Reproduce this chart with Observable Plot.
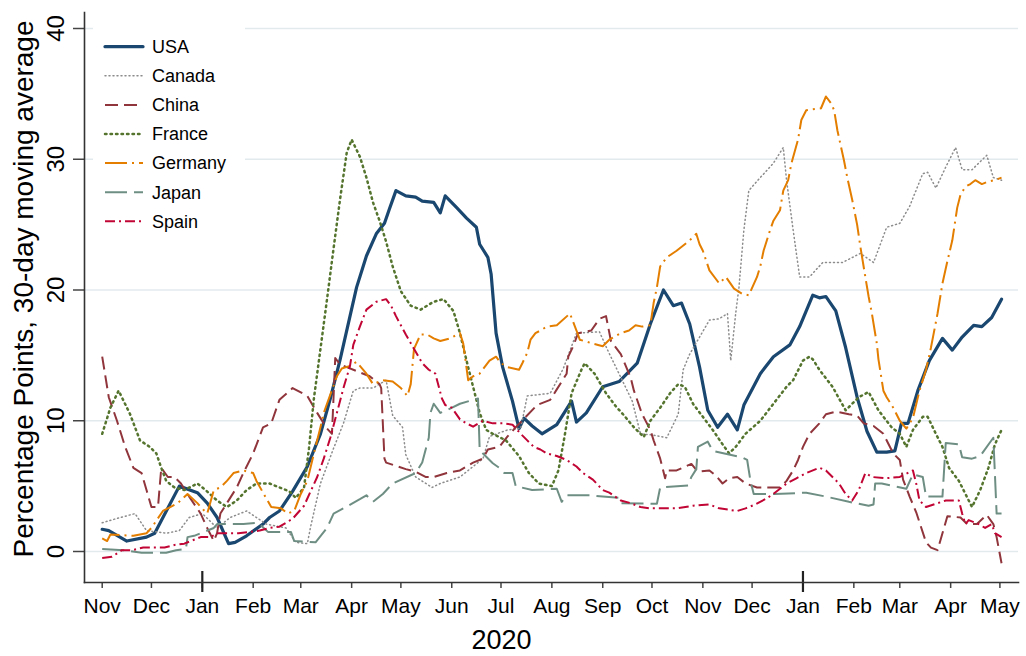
<!DOCTYPE html>
<html><head><meta charset="utf-8">
<script src="https://cdn.jsdelivr.net/npm/d3@7"></script>
<script src="https://cdn.jsdelivr.net/npm/@observablehq/plot@0.6"></script>
<style>
body{margin:0;background:#fff;}
#wrap{position:relative;width:1026px;height:656px;font-family:"Liberation Sans",Arial,sans-serif;}
#legend{position:absolute;left:93px;top:24px;}
</style></head><body>
<div id="wrap"><div id="chart"></div><div id="legend"></div></div>
<script>
const names = ["USA","Canada","China","France","Germany","Japan","Spain"];
const colors = ["#1a476f","#8c8c8c","#90353b","#55752f","#e37e00","#6e8e84","#c10534"];
const dashes = ["none","1,3","13,6","1.5,4","22,5,2,5","22,7","10,4,2,4"];
const widths = [3.2,1.5,2,2.5,2,2,2];
const caps = ["round","round","butt","round","butt","butt","butt"];
const yTicks = [0,10,20,30,40];
const monthTicks = ["2019-11-01","2019-12-01","2020-01-01","2020-02-01","2020-03-01","2020-04-01","2020-05-01","2020-06-01","2020-07-01","2020-08-01","2020-09-01","2020-10-01","2020-11-01","2020-12-01","2021-01-01","2021-02-01","2021-03-01","2021-04-01","2021-05-01"];
const yearTicks = ["2020-01-01","2021-01-01"];
const yLabel = "Percentage Points, 30-day moving average";
const xLabel = "2020";

const usa = [["2019-11-01",1.7],["2019-11-05",1.6],["2019-11-16",0.8],["2019-11-28",1.1],["2019-12-03",1.4],["2019-12-18",5.0],["2019-12-29",4.5],["2020-01-04",3.7],["2020-01-10",2.6],["2020-01-17",0.6],["2020-01-21",0.7],["2020-01-28",1.2],["2020-02-07",2.1],["2020-02-11",2.6],["2020-02-17",3.1],["2020-02-25",4.6],["2020-03-05",6.5],["2020-03-13",9.0],["2020-03-19",11.7],["2020-03-25",14.7],["2020-03-31",18.0],["2020-04-04",20.2],["2020-04-10",22.6],["2020-04-16",24.3],["2020-04-21",25.1],["2020-04-24",26.2],["2020-04-28",27.6],["2020-05-04",27.2],["2020-05-10",27.1],["2020-05-14",26.8],["2020-05-21",26.7],["2020-05-25",25.9],["2020-05-28",27.2],["2020-06-04",26.3],["2020-06-10",25.5],["2020-06-16",24.8],["2020-06-18",23.5],["2020-06-23",22.5],["2020-06-25",21.2],["2020-06-28",16.7],["2020-07-02",14.1],["2020-07-08",11.5],["2020-07-12",9.4],["2020-07-15",10.2],["2020-07-20",9.6],["2020-07-26",9.0],["2020-08-04",9.7],["2020-08-13",11.5],["2020-08-16",9.9],["2020-08-22",10.6],["2020-09-01",12.6],["2020-09-11",13.0],["2020-09-22",14.4],["2020-09-30",17.4],["2020-10-08",20.0],["2020-10-14",18.8],["2020-10-19",19.0],["2020-10-24",17.4],["2020-10-30",14.1],["2020-11-04",10.8],["2020-11-10",9.5],["2020-11-16",10.5],["2020-11-22",9.3],["2020-11-26",11.2],["2020-12-06",13.6],["2020-12-14",14.9],["2020-12-24",15.8],["2020-12-30",17.2],["2021-01-07",19.6],["2021-01-11",19.4],["2021-01-15",19.5],["2021-01-21",18.4],["2021-01-27",15.6],["2021-02-03",11.8],["2021-02-09",9.2],["2021-02-15",7.6],["2021-02-21",7.6],["2021-02-26",7.7],["2021-03-02",9.8],["2021-03-06",9.8],["2021-03-12",12.3],["2021-03-19",14.6],["2021-03-27",16.3],["2021-04-02",15.4],["2021-04-08",16.4],["2021-04-15",17.3],["2021-04-20",17.2],["2021-04-26",17.9],["2021-05-02",19.3]];

const canada = [["2019-11-01",2.2],["2019-11-12",2.6],["2019-11-21",2.9],["2019-11-28",1.6],["2019-12-10",1.4],["2019-12-18",1.6],["2019-12-24",2.6],["2020-01-01",2.9],["2020-01-10",1.8],["2020-01-18",2.6],["2020-01-28",3.1],["2020-02-09",2.1],["2020-02-21",1.8],["2020-02-27",0.7],["2020-03-05",0.6],["2020-03-07",1.9],["2020-03-13",5.2],["2020-03-21",7.9],["2020-03-27",9.8],["2020-04-02",12.3],["2020-04-06",12.5],["2020-04-14",12.5],["2020-04-22",13.1],["2020-04-26",10.4],["2020-05-02",9.5],["2020-05-04",7.4],["2020-05-10",5.7],["2020-05-20",4.9],["2020-05-25",5.2],["2020-06-06",5.7],["2020-06-20",7.1],["2020-06-24",8.8],["2020-07-05",9.3],["2020-07-13",9.4],["2020-07-17",11.9],["2020-07-31",12.1],["2020-08-08",14.0],["2020-08-16",16.7],["2020-08-30",16.8],["2020-09-04",15.4],["2020-09-19",11.5],["2020-09-24",9.0],["2020-10-02",8.9],["2020-10-10",8.7],["2020-10-17",10.5],["2020-10-20",13.9],["2020-10-24",15.1],["2020-10-30",16.4],["2020-11-05",17.7],["2020-11-11",17.8],["2020-11-16",18.2],["2020-11-18",14.6],["2020-11-21",18.2],["2020-11-23",20.2],["2020-11-26",24.6],["2020-11-29",27.6],["2020-12-06",28.6],["2020-12-14",29.7],["2020-12-20",30.9],["2020-12-22",28.4],["2020-12-26",24.6],["2020-12-30",21.0],["2021-01-05",21.0],["2021-01-13",22.1],["2021-01-25",22.1],["2021-02-05",22.8],["2021-02-13",22.1],["2021-02-21",24.8],["2021-03-01",25.1],["2021-03-07",26.4],["2021-03-15",28.9],["2021-03-18",29.0],["2021-03-23",27.8],["2021-03-29",29.4],["2021-04-04",30.9],["2021-04-08",29.2],["2021-04-14",29.2],["2021-04-23",30.3],["2021-04-27",28.6],["2021-05-02",28.4]];

const china = [["2019-11-01",14.9],["2019-11-05",11.8],["2019-11-10",10.0],["2019-11-15",8.0],["2019-11-20",6.4],["2019-11-25",6.0],["2019-11-28",4.7],["2019-12-01",3.4],["2019-12-05",3.4],["2019-12-07",6.4],["2019-12-11",5.7],["2019-12-15",5.7],["2019-12-19",5.2],["2019-12-24",4.2],["2019-12-31",2.9],["2020-01-04",1.8],["2020-01-08",0.8],["2020-01-10",1.4],["2020-01-12",2.9],["2020-01-16",3.7],["2020-01-22",4.9],["2020-01-26",6.0],["2020-02-01",7.5],["2020-02-07",9.5],["2020-02-12",9.8],["2020-02-17",11.6],["2020-02-25",12.5],["2020-03-05",11.9],["2020-03-11",10.6],["2020-03-17",9.4],["2020-03-20",9.0],["2020-03-22",14.8],["2020-03-25",14.3],["2020-04-12",13.4],["2020-04-18",12.8],["2020-04-19",12.5],["2020-04-21",7.1],["2020-04-22",6.8],["2020-05-04",6.3],["2020-05-10",6.1],["2020-05-16",5.7],["2020-05-21",5.7],["2020-05-29",6.0],["2020-06-06",6.2],["2020-06-14",6.8],["2020-06-20",7.1],["2020-06-23",7.8],["2020-06-30",8.0],["2020-07-05",8.8],["2020-07-10",9.5],["2020-07-23",11.2],["2020-07-31",11.6],["2020-08-04",12.4],["2020-08-10",13.6],["2020-08-11",14.9],["2020-08-14",15.7],["2020-08-17",16.7],["2020-08-25",16.9],["2020-08-30",17.8],["2020-09-03",18.0],["2020-09-06",16.1],["2020-09-12",15.1],["2020-09-18",13.3],["2020-09-20",12.3],["2020-09-25",10.5],["2020-09-30",9.3],["2020-10-02",8.5],["2020-10-06",7.1],["2020-10-09",5.6],["2020-10-10",6.2],["2020-10-16",6.2],["2020-10-25",6.7],["2020-10-29",6.1],["2020-11-05",6.2],["2020-11-09",5.8],["2020-11-13",5.2],["2020-11-17",5.6],["2020-11-22",5.7],["2020-11-27",5.2],["2020-12-04",4.9],["2020-12-18",4.9],["2020-12-22",5.4],["2020-12-26",6.2],["2020-12-29",7.0],["2021-01-01",8.0],["2021-01-05",9.0],["2021-01-11",9.8],["2021-01-15",10.5],["2021-01-21",10.7],["2021-01-29",10.5],["2021-02-03",10.4],["2021-02-07",9.8],["2021-02-13",9.6],["2021-02-19",9.0],["2021-02-25",7.5],["2021-03-01",7.0],["2021-03-03",5.5],["2021-03-07",4.2],["2021-03-11",3.0],["2021-03-17",0.7],["2021-03-20",0.3],["2021-03-24",0.1],["2021-03-27",1.4],["2021-03-30",2.7],["2021-04-07",2.6],["2021-04-11",2.1],["2021-04-17",2.1],["2021-04-23",2.8],["2021-04-27",2.1],["2021-04-29",1.1],["2021-05-02",-0.9]];

const france = [["2019-11-01",9.0],["2019-11-06",11.0],["2019-11-11",12.3],["2019-11-18",10.5],["2019-11-24",8.5],["2019-11-30",8.0],["2019-12-04",7.5],["2019-12-07",6.4],["2019-12-10",5.4],["2019-12-15",4.9],["2019-12-21",4.7],["2019-12-29",5.2],["2020-01-03",4.7],["2020-01-10",3.9],["2020-01-16",3.4],["2020-01-22",3.9],["2020-01-28",4.7],["2020-02-03",5.2],["2020-02-11",5.2],["2020-02-17",4.9],["2020-02-23",4.6],["2020-02-27",4.1],["2020-03-03",4.9],["2020-03-06",7.9],["2020-03-09",11.7],["2020-03-13",15.5],["2020-03-17",19.3],["2020-03-21",23.2],["2020-03-25",27.0],["2020-03-29",30.5],["2020-04-01",31.5],["2020-04-06",30.2],["2020-04-10",28.6],["2020-04-14",26.7],["2020-04-18",25.3],["2020-04-22",23.7],["2020-04-26",21.8],["2020-05-01",19.9],["2020-05-07",18.8],["2020-05-13",18.5],["2020-05-21",19.1],["2020-05-27",19.3],["2020-06-02",18.4],["2020-06-06",16.7],["2020-06-10",14.6],["2020-06-14",12.6],["2020-06-18",10.6],["2020-06-22",9.3],["2020-06-26",9.0],["2020-07-04",8.5],["2020-07-12",7.3],["2020-07-18",6.0],["2020-07-24",5.2],["2020-08-01",5.0],["2020-08-05",6.2],["2020-08-09",9.0],["2020-08-13",12.1],["2020-08-19",13.9],["2020-08-21",14.4],["2020-08-27",13.6],["2020-09-03",12.1],["2020-09-09",11.1],["2020-09-14",10.4],["2020-09-20",9.5],["2020-09-26",8.75],["2020-09-30",10.0],["2020-10-06",11.0],["2020-10-12",12.1],["2020-10-17",12.8],["2020-10-21",12.6],["2020-10-26",11.3],["2020-11-01",10.3],["2020-11-07",9.3],["2020-11-13",8.2],["2020-11-17",7.5],["2020-11-21",8.0],["2020-11-27",9.0],["2020-12-06",10.0],["2020-12-14",11.3],["2020-12-22",12.6],["2020-12-26",13.1],["2021-01-01",14.6],["2021-01-05",14.9],["2021-01-07",14.7],["2021-01-11",13.9],["2021-01-19",12.6],["2021-01-27",10.8],["2021-02-04",11.8],["2021-02-10",12.2],["2021-02-16",10.8],["2021-02-24",9.5],["2021-03-01",9.0],["2021-03-05",8.0],["2021-03-09",9.3],["2021-03-15",10.3],["2021-03-18",10.3],["2021-03-23",9.0],["2021-03-27",8.0],["2021-03-31",6.4],["2021-04-06",5.4],["2021-04-14",3.4],["2021-04-19",4.7],["2021-04-24",6.4],["2021-04-28",8.2],["2021-05-02",9.3]];

const germany = [["2019-11-01",1.0],["2019-11-04",0.8],["2019-11-06",1.3],["2019-11-20",1.2],["2019-11-28",1.4],["2019-12-01",1.8],["2019-12-08",3.1],["2019-12-17",3.7],["2019-12-23",4.4],["2019-12-29",3.7],["2019-12-31",3.4],["2020-01-04",2.9],["2020-01-08",4.7],["2020-01-12",4.9],["2020-01-16",5.4],["2020-01-20",6.0],["2020-01-26",6.2],["2020-02-01",6.0],["2020-02-03",5.4],["2020-02-07",4.5],["2020-02-12",3.4],["2020-02-18",3.3],["2020-02-22",2.9],["2020-02-26",3.1],["2020-03-01",4.4],["2020-03-05",5.4],["2020-03-09",7.5],["2020-03-13",9.5],["2020-03-15",10.6],["2020-03-19",12.0],["2020-03-23",13.4],["2020-03-26",14.0],["2020-03-31",14.2],["2020-04-04",14.5],["2020-04-06",14.2],["2020-04-10",13.6],["2020-04-14",12.8],["2020-04-20",13.1],["2020-04-26",13.0],["2020-05-01",12.5],["2020-05-05",11.9],["2020-05-07",12.8],["2020-05-09",15.5],["2020-05-13",16.6],["2020-05-17",16.6],["2020-05-21",16.3],["2020-05-25",16.1],["2020-05-31",16.3],["2020-06-06",16.7],["2020-06-08",15.9],["2020-06-11",13.1],["2020-06-14",13.4],["2020-06-18",13.6],["2020-06-24",14.6],["2020-06-28",14.9],["2020-07-01",14.4],["2020-07-05",14.1],["2020-07-12",13.9],["2020-07-14",14.4],["2020-07-17",15.2],["2020-07-19",16.2],["2020-07-22",16.7],["2020-07-25",16.9],["2020-07-29",17.2],["2020-08-04",17.3],["2020-08-12",18.2],["2020-08-16",16.9],["2020-08-18",16.2],["2020-08-26",15.9],["2020-09-01",15.7],["2020-09-05",16.2],["2020-09-12",16.7],["2020-09-17",16.9],["2020-09-21",17.3],["2020-09-25",17.2],["2020-09-30",17.3],["2020-10-02",19.0],["2020-10-04",20.2],["2020-10-06",21.8],["2020-10-10",22.5],["2020-10-16",23.0],["2020-10-24",23.8],["2020-10-28",24.3],["2020-10-30",23.5],["2020-11-01",23.0],["2020-11-05",21.5],["2020-11-11",20.5],["2020-11-15",21.0],["2020-11-20",20.1],["2020-11-25",19.7],["2020-11-29",19.6],["2020-12-04",21.0],["2020-12-06",21.8],["2020-12-08",23.0],["2020-12-12",24.6],["2020-12-14",25.3],["2020-12-18",26.1],["2020-12-20",27.6],["2020-12-23",28.4],["2020-12-25",29.7],["2020-12-29",31.5],["2020-12-31",33.0],["2021-01-03",33.75],["2021-01-12",33.9],["2021-01-15",34.8],["2021-01-18",34.3],["2021-01-20",33.75],["2021-01-22",32.2],["2021-01-26",29.9],["2021-01-28",28.6],["2021-01-31",26.9],["2021-02-03",25.0],["2021-02-05",23.3],["2021-02-08",21.0],["2021-02-10",19.5],["2021-02-12",18.2],["2021-02-15",15.9],["2021-02-16",14.7],["2021-02-19",12.3],["2021-02-21",11.8],["2021-02-25",11.0],["2021-03-01",10.0],["2021-03-05",9.4],["2021-03-09",10.2],["2021-03-13",12.3],["2021-03-17",13.9],["2021-03-20",15.6],["2021-03-24",18.2],["2021-03-27",20.5],["2021-03-30",22.2],["2021-04-02",23.8],["2021-04-05",26.3],["2021-04-07",27.3],["2021-04-10",27.9],["2021-04-13",28.1],["2021-04-16",28.4],["2021-04-20",28.1],["2021-04-24",28.3],["2021-04-28",28.4],["2021-05-02",28.6]];

const japan = [["2019-11-01",0.2],["2019-11-14",0.1],["2019-11-25",-0.1],["2019-12-10",-0.1],["2019-12-16",0.1],["2019-12-22",0.2],["2019-12-23",1.1],["2019-12-27",1.2],["2020-01-08",1.8],["2020-01-10",2.1],["2020-01-26",2.1],["2020-02-04",2.2],["2020-02-10",1.5],["2020-02-24",1.5],["2020-02-26",0.8],["2020-03-10",0.7],["2020-03-17",1.8],["2020-03-21",2.9],["2020-03-27",3.3],["2020-04-06",4.0],["2020-04-10",4.3],["2020-04-14",3.8],["2020-04-20",4.4],["2020-04-26",5.2],["2020-05-10",6.0],["2020-05-14",6.8],["2020-05-18",8.7],["2020-05-19",10.6],["2020-05-21",11.3],["2020-05-25",10.6],["2020-05-29",10.8],["2020-06-06",11.3],["2020-06-14",11.6],["2020-06-17",11.7],["2020-06-18",7.8],["2020-06-20",7.5],["2020-06-26",6.75],["2020-07-01",6.3],["2020-07-03",6.0],["2020-07-08",6.0],["2020-07-10",5.0],["2020-07-20",4.7],["2020-08-04",4.8],["2020-08-07",3.8],["2020-08-10",4.3],["2020-08-24",4.3],["2020-09-11",4.1],["2020-09-12",3.7],["2020-10-04",3.65],["2020-10-06",4.9],["2020-10-23",5.05],["2020-10-25",5.7],["2020-10-28",6.3],["2020-10-29",8.0],["2020-11-04",8.4],["2020-11-07",7.7],["2020-11-25",7.2],["2020-11-28",7.0],["2020-11-30",5.4],["2020-12-02",4.4],["2020-12-15",4.4],["2021-01-03",4.5],["2021-01-15",4.2],["2021-01-29",3.8],["2021-02-10",3.5],["2021-02-13",3.6],["2021-02-14",5.2],["2021-02-18",5.2],["2021-03-05",4.8],["2021-03-09",5.9],["2021-03-15",5.7],["2021-03-17",4.2],["2021-03-27",4.2],["2021-03-29",8.3],["2021-04-06",8.2],["2021-04-08",7.2],["2021-04-14",7.1],["2021-04-19",7.3],["2021-04-27",8.7],["2021-04-29",2.9],["2021-05-02",2.9]];

const spain = [["2019-11-01",-0.5],["2019-11-07",-0.4],["2019-11-13",0.1],["2019-11-19",0.1],["2019-11-26",0.3],["2019-12-09",0.3],["2019-12-15",0.5],["2019-12-21",0.6],["2019-12-25",0.8],["2019-12-31",1.1],["2020-01-06",1.1],["2020-01-10",1.4],["2020-01-23",1.4],["2020-02-05",1.6],["2020-02-11",1.8],["2020-02-17",1.9],["2020-02-25",2.5],["2020-03-03",3.5],["2020-03-07",4.6],["2020-03-11",5.7],["2020-03-15",7.1],["2020-03-19",8.7],["2020-03-23",10.6],["2020-03-27",12.5],["2020-03-31",14.2],["2020-04-02",15.8],["2020-04-06",17.2],["2020-04-10",18.5],["2020-04-16",19.1],["2020-04-22",19.3],["2020-04-25",18.8],["2020-04-28",18.0],["2020-05-04",16.6],["2020-05-14",14.4],["2020-05-18",13.9],["2020-05-22",13.6],["2020-05-26",11.7],["2020-05-28",11.2],["2020-06-01",11.0],["2020-06-06",10.1],["2020-06-10",9.8],["2020-06-14",9.55],["2020-06-20",10.0],["2020-06-26",9.8],["2020-07-02",9.8],["2020-07-08",9.7],["2020-07-13",9.0],["2020-07-17",8.5],["2020-07-21",8.0],["2020-07-25",7.8],["2020-07-29",7.5],["2020-08-04",7.3],["2020-08-10",7.0],["2020-08-16",6.5],["2020-08-20",6.0],["2020-08-26",5.5],["2020-09-01",4.7],["2020-09-05",4.5],["2020-09-12",3.9],["2020-09-18",3.7],["2020-09-24",3.4],["2020-09-30",3.3],["2020-10-16",3.3],["2020-10-26",3.5],["2020-11-05",3.6],["2020-11-11",3.3],["2020-11-22",3.1],["2020-11-27",3.3],["2020-12-03",3.6],["2020-12-09",4.0],["2020-12-14",4.4],["2020-12-18",4.8],["2020-12-22",5.2],["2020-12-28",5.6],["2021-01-03",6.0],["2021-01-11",6.4],["2021-01-15",6.2],["2021-01-23",5.2],["2021-01-27",4.4],["2021-01-31",3.9],["2021-02-04",4.7],["2021-02-08",6.0],["2021-02-12",5.7],["2021-02-20",5.6],["2021-03-01",5.7],["2021-03-09",6.2],["2021-03-11",5.2],["2021-03-13",3.9],["2021-03-17",3.4],["2021-03-29",3.9],["2021-04-06",3.9],["2021-04-08",2.9],["2021-04-10",2.1],["2021-04-12",2.4],["2021-04-18",2.1],["2021-04-22",1.8],["2021-04-26",2.1],["2021-04-28",1.4],["2021-05-02",1.1]];

const parse = d3.utcParse("%Y-%m-%d");
const seriesData = [usa, canada, china, france, germany, japan, spain];

const marks = [
  Plot.gridY(yTicks, {stroke: "#e2eaee", strokeOpacity: 1, strokeWidth: 1.5})
];
seriesData.forEach((s, i) => {
  marks.push(Plot.line(s.map(([d, v]) => ({date: parse(d), value: v})), {
    x: "date", y: "value", stroke: colors[i], strokeWidth: widths[i],
    strokeDasharray: dashes[i], strokeLinecap: caps[i], strokeLinejoin: "round"
  }));
});
marks.push(
  Plot.axisY(yTicks, {anchor: "left", tickSize: 11, tickPadding: 10, tickRotate: -90, fontSize: 24, label: null, stroke: "#444", strokeWidth: 1.5, fill: "#000"}),
  Plot.axisX(monthTicks.map(parse), {anchor: "bottom", tickSize: 6, tickPadding: 10, tickFormat: "%b", fontSize: 21, label: null, stroke: "#444", strokeWidth: 1.5, fill: "#000"}),
  Plot.axisX(yearTicks.map(parse), {anchor: "bottom", tickSize: 21, dy: -11, tickFormat: () => "", label: null, stroke: "#222", strokeWidth: 2.2}),
  Plot.frame({anchor: "left", stroke: "#333", strokeWidth: 1.6}),
  Plot.frame({anchor: "bottom", stroke: "#333", strokeWidth: 1.6}),
  Plot.text([yLabel], {frameAnchor: "left", textAnchor: "middle", lineAnchor: "middle", rotate: -90, dx: -60, dy: -8.5, fontSize: 28, fill: "#000"}),
  Plot.text([xLabel], {frameAnchor: "bottom", textAnchor: "middle", lineAnchor: "bottom", dx: -50, dy: 66, fontSize: 27, fill: "#000"})
);

const chart = Plot.plot({
  width: 1026, height: 656,
  marginLeft: 84, marginRight: 8, marginTop: 12, marginBottom: 74,
  style: {fontFamily: "'Liberation Sans', Arial, sans-serif", background: "#fff", color: "#000", overflow: "visible"},
  x: {type: "utc", domain: [parse("2019-11-01"), parse("2021-05-01")], insetLeft: 17.7, insetRight: 18.6},
  y: {domain: [0, 40], insetTop: 16, insetBottom: 31},
  marks
});
document.getElementById("chart").appendChild(chart);

// legend
const lw = 152, lh = 214;
const lg = d3.select("#legend").append("svg").attr("width", lw).attr("height", lh).style("display","block");
lg.append("rect").attr("width", lw).attr("height", lh).attr("fill", "#fff");
names.forEach((n, i) => {
  const cy = 22.7 + 29.1 * i;
  lg.append("line").attr("x1", 12).attr("x2", 50).attr("y1", cy).attr("y2", cy)
    .attr("stroke", colors[i]).attr("stroke-width", widths[i])
    .attr("stroke-dasharray", dashes[i]).attr("stroke-linecap", caps[i]);
  lg.append("text").attr("x", 59).attr("y", cy).attr("dy", "0.35em")
    .attr("font-size", 18).attr("font-family", "'Liberation Sans', Arial, sans-serif")
    .attr("fill", "#000").text(n);
});
</script>
</body></html>
